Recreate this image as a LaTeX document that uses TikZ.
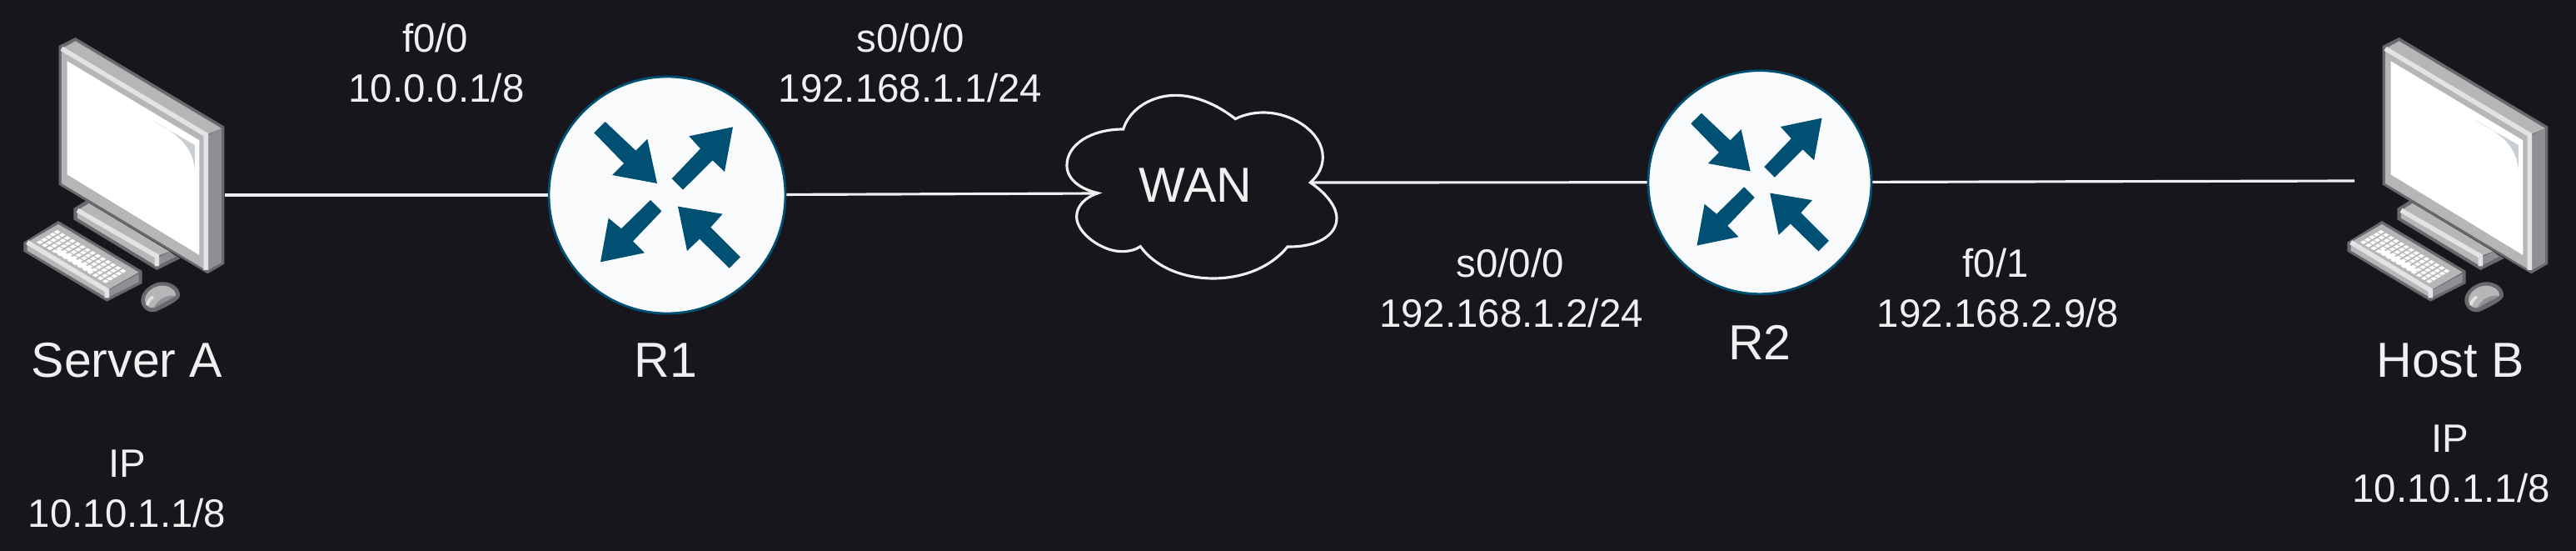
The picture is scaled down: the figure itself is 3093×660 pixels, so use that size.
\documentclass[tikz,border=0pt]{standalone}
\usepackage{xcolor}
\usepackage{fontspec}
\setmainfont{Liberation Sans}
\usetikzlibrary{positioning}
\definecolor{bgdark}{RGB}{24,22,29}
\definecolor{labelgray}{RGB}{240,240,240}
\definecolor{routerblue}{RGB}{0,80,115}
\definecolor{routerwhite}{RGB}{249,250,251}
\definecolor{pcedge}{RGB}{104,105,107}
\definecolor{pcface}{RGB}{180,182,184}
\definecolor{pcside}{RGB}{141,143,146}
\definecolor{pcshine}{RGB}{226,227,228}
\definecolor{pcglare}{RGB}{201,206,211}

\tikzset{
  pics/pcicon/.style={code={
    % stand
    \fill[pcedge] (265,690)--(310,662)--(650,870)--(565,912)--(265,730)--cycle;
    \fill[pcface] (279,697)--(320,672)--(610,845)--(565,862)--cycle;
    \fill[pcface] (279,700)--(565,868)--(565,898)--(279,725)--cycle;
    \fill[pcside] (570,866)--(612,846)--(632,864)--(570,895)--cycle;
    \draw[pcshine, line width=1.6pt] (279,697)--(565,862)--(565,898);
    % monitor
    \fill[pcedge] (212,105)--(272,75)--(808,395)--(808,890)--(748,925)--(212,605)--cycle;
    \fill[pcface] (222,115)--(272,88)--(798,402)--(742,425)--cycle;
    \fill[pcface] (222,115)--(742,425)--(742,912)--(222,600)--cycle;
    \fill[pcside] (750,425)--(798,402)--(798,885)--(750,912)--cycle;
    \draw[pcshine, line width=1.6pt] (222,115)--(742,425)--(742,912);
    \fill[white] (242,160)--(718,445)--(718,858)--(242,568)--cycle;
    \fill[pcglare] (545,372)--(702,462)--(702,552) .. controls (695,480) and (660,430) .. cycle;
    % keyboard
    \fill[pcedge] (85,812)--(210,735)--(512,915)--(512,960)--(385,1025)--(85,845)--cycle;
    \fill[pcface] (98,812)--(210,747)--(500,920)--(385,985)--cycle;
    \fill[pcface] (98,815)--(385,988)--(385,1012)--(98,842)--cycle;
    \fill[pcside] (390,985)--(500,925)--(500,955)--(390,1010)--cycle;
    \draw[pcshine, line width=1.6pt] (98,812)--(385,985)--(385,1012);
    \foreach \i in {0,...,13} {
      \foreach \j in {0,...,4} {
        \fill[white] ({206+18.2*\i-15.5*\j},{775+10.8*\i+9.2*\j}) +(0,-7)--+(12,0)--+(0,7)--+(-12,0)--cycle;
      }
    }
    \fill[white] (196,846)--(212,836)--(340,912)--(325,922)--cycle;
    % mouse
    \fill[pcedge] (508,1020) .. controls (508,985) and (550,955) .. (585,955) .. controls (625,955) and (650,980) .. (648,1005) .. controls (645,1020) and (610,1040) .. (560,1062) .. controls (530,1068) and (508,1045) .. (508,1020) -- cycle;
    \fill[pcface] (522,1020) .. controls (522,992) and (555,968) .. (585,968) .. controls (612,968) and (632,985) .. (634,1002) -- (550,1048) .. controls (535,1048) and (522,1038) .. (522,1020) -- cycle;
    \fill[pcside] (634,1005) -- (552,1050) .. controls (570,1015) and (600,1000) .. (634,1005) -- cycle;
    \draw[pcshine, line width=1pt] (530,1038) .. controls (535,1020) and (545,1012) .. (552,1008);
  }},
  pics/routerarrows/.style={code={
    \begin{scope}[shift={(-543,-342)}]
      \fill[routerblue] (320,78)--(430,182)--(472,140)--(507,300)--(345,270)--(387,228)--(280,118)--cycle;
      \fill[routerblue] (560,283)--(663,175)--(622,130)--(780,97)--(750,258)--(707,217)--(600,323)--cycle;
      \fill[routerblue] (483,360)--(378,463)--(332,425)--(303,583)--(462,550)--(420,508)--(523,400)--cycle;
      \fill[routerblue] (582,383)--(743,410)--(700,458)--(807,565)--(767,605)--(660,500)--(615,543)--cycle;
    \end{scope}
  }}
}

\begin{document}
\begin{tikzpicture}[
  x=0.1mm, y=-0.1mm,
  lbl/.style={anchor=base, inner sep=0pt, text=labelgray, font=\fontsize{13.5}{16}\selectfont},
  biglbl/.style={lbl, font=\fontsize{16.8}{20}\selectfont},
  router/.style={circle, draw=routerblue, fill=routerwhite, line width=0.8pt, inner sep=0pt},
  link/.style={draw=labelgray, line width=0.9pt},
  wancloud/.style={draw=labelgray, line width=0.9pt, line join=miter}
]
  \useasboundingbox (0,0) rectangle (3093,660);
  \fill[bgdark] (-5,-5) rectangle (3098,665);

  % --- end hosts ---
  \pic[scale=0.3333] at (0,20) {pcicon};
  \pic[scale=0.3333] at (2790,20) {pcicon};
  \coordinate (srvport) at (270,234);
  \coordinate (hostport) at (2827,217);
  \node[biglbl] (srvname) at (152.5,452.7) {Server A};
  \node[lbl] (srvip) at (152.5,572.7) {IP};
  \node[lbl] (srvaddr) at (152.5,632) {10.10.1.1/8};
  \node[biglbl] (hostname) at (2942,452.7) {Host B};
  \node[lbl] (hostip) at (2942,542.7) {IP};
  \node[lbl] (hostaddr) at (2943,602) {10.10.1.1/8};

  % --- routers ---
  \node[router, minimum size=28.4mm] (R1) at (801,234) {};
  \node[router, minimum size=26.8mm] (R2) at (2113,218.7) {};
  \pic[scale=0.3333] at (R1) {routerarrows};
  \pic[scale=0.3146] at (R2) {routerarrows};
  \node[biglbl] (R1name) at (799.5,452.3) {R1};
  \node[biglbl] (R2name) at (2113,431.7) {R2};

  % --- cloud ---
  \begin{scope}[shift={(1250,90)}, scale=0.3333]
    \draw[wancloud] (205,425) .. controls (160,440) and (128,470) .. (128,510)
      .. controls (128,570) and (220,635) .. (290,635)
      .. controls (315,635) and (340,630) .. (358,617)
      .. controls (410,690) and (510,732) .. (620,732)
      .. controls (730,732) and (830,690) .. (888,618)
      .. controls (990,620) and (1065,580) .. (1065,515)
      .. controls (1065,470) and (1020,420) .. (970,387)
      .. controls (1000,360) and (1015,330) .. (1015,295)
      .. controls (1015,210) and (910,135) .. (800,135)
      .. controls (765,135) and (730,143) .. (700,158)
      .. controls (640,110) and (560,73) .. (485,73)
      .. controls (400,73) and (320,120) .. (296,195)
      .. controls (180,195) and (93,250) .. (93,325)
      .. controls (93,375) and (140,410) .. (205,425) -- cycle;
  \end{scope}
  \coordinate (wanW) at (1318,232);
  \coordinate (wanE) at (1573,219);
  \node[biglbl] (WAN) at (1435.7,242.7) {WAN};

  % --- links ---
  \draw[link] (srvport) -- (R1);
  \draw[link] (R1) -- (wanW);
  \draw[link] (wanE) -- (R2);
  \draw[link] (R2) -- (hostport);

  % --- interface labels ---
  \node[lbl] (r1f) at (522.6,62.3) {f0/0};
  \node[lbl] (r1faddr) at (524,122.7) {10.0.0.1/8};
  \node[lbl] (r1s) at (1093,62.3) {s0/0/0};
  \node[lbl] (r1saddr) at (1093,122.7) {192.168.1.1/24};
  \node[lbl] (r2s) at (1813,332.3) {s0/0/0};
  \node[lbl] (r2saddr) at (1814.5,392.7) {192.168.1.2/24};
  \node[lbl] (r2f) at (2396,332.3) {f0/1};
  \node[lbl] (r2faddr) at (2399,392.7) {192.168.2.9/8};
\end{tikzpicture}
\end{document}
